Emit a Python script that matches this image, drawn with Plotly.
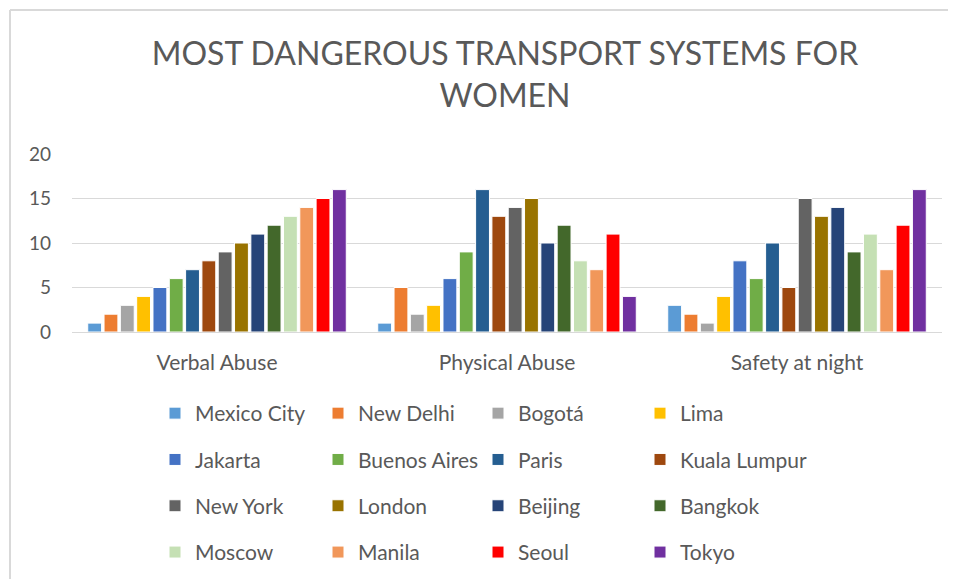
import plotly.graph_objects as go

categories = ["Verbal Abuse", "Physical Abuse", "Safety at night"]
cities = ["Mexico City", "New Delhi", "Bogotá", "Lima",
          "Jakarta", "Buenos Aires", "Paris", "Kuala Lumpur",
          "New York", "London", "Beijing", "Bangkok",
          "Moscow", "Manila", "Seoul", "Tokyo"]
verbal_abuse = [1, 2, 3, 4, 5, 6, 7, 8, 9, 10, 11, 12, 13, 14, 15, 16]
physical_abuse = [1, 5, 2, 3, 6, 9, 16, 13, 14, 15, 10, 12, 8, 7, 11, 4]
safety_at_night = [3, 2, 1, 4, 8, 6, 10, 5, 15, 13, 14, 9, 11, 7, 12, 16]
colors = ["#5B9BD5", "#ED7D31", "#A5A5A5", "#FFC000",
          "#4472C4", "#70AD47", "#255E91", "#9E480E",
          "#636363", "#997300", "#264478", "#43682B",
          "#C5E0B4", "#F1975A", "#FF0000", "#7030A0"]
y_ticks = [0, 5, 10, 15, 20]

FONT = "Lato, Carlito, Calibri, sans-serif"
GREY = "#595959"

fig = go.Figure()
for i, city in enumerate(cities):
    col = i % 4
    fig.add_trace(go.Bar(
        name=city,
        x=categories,
        y=[verbal_abuse[i], physical_abuse[i], safety_at_night[i]],
        marker=dict(color=colors[i], line=dict(color="white", width=1)),
        legend="legend" if col == 0 else f"legend{col + 1}",
        legendgroup=city,
    ))

W, H = 956, 579
# page body adds an 8px offset; positions below are in figure pixels
L, R, T, B = 64, 22, 146, 255
pw = W - L - R
ph = H - T - B

def px_x(x):
    return (x - L) / pw

def px_y(y):
    return (H - B - y) / ph

leg_common = dict(
    font=dict(family=FONT, size=21, color=GREY),
    bgcolor="rgba(0,0,0,0)",
    tracegroupgap=16,
    itemwidth=30,
    orientation="v",
    xanchor="left",
    yanchor="top",
    traceorder="grouped",
)
col_x = [147, 310, 470, 632]
legends = {}
for c in range(4):
    key = "legend" if c == 0 else f"legend{c + 1}"
    legends[key] = dict(leg_common, x=px_x(col_x[c]), y=px_y(385))

fig.update_layout(
    width=W, height=H,
    margin=dict(l=L, r=R, t=T, b=B),
    paper_bgcolor="white",
    plot_bgcolor="white",
    font=dict(family=FONT, color=GREY),
    title=dict(
        text="MOST DANGEROUS TRANSPORT SYSTEMS FOR<br>WOMEN",
        font=dict(family=FONT, size=32, color=GREY),
        x=497 / W, xanchor="center",
        y=1 - 57 / H, yanchor="top",
    ),
    barmode="group",
    bargap=0.1,
    bargroupgap=0.15,
    showlegend=True,
    **legends,
    xaxis=dict(
        showgrid=False,
        showline=True, linecolor="#D9D9D9", linewidth=1,
        tickfont=dict(family=FONT, size=21, color=GREY),
        ticks="", ticklabelstandoff=12,
    ),
    yaxis=dict(
        range=[0, 20],
        tickvals=y_ticks,
        showgrid=True, gridcolor="#D9D9D9", gridwidth=1,
        zeroline=False, showline=False,
        tickfont=dict(family=FONT, size=19, color=GREY),
        ticks="", ticklabelstandoff=20,
    ),
    shapes=[
        dict(type="line", xref="paper", yref="paper",
             x0=px_x(2), x1=px_x(W + 5), y0=px_y(2), y1=px_y(2),
             line=dict(color="#D9D9D9", width=2)),
        dict(type="line", xref="paper", yref="paper",
             x0=px_x(2), x1=px_x(2), y0=px_y(2), y1=px_y(H + 5),
             line=dict(color="#D9D9D9", width=2)),
    ],
)

fig.write_html("out.html")
